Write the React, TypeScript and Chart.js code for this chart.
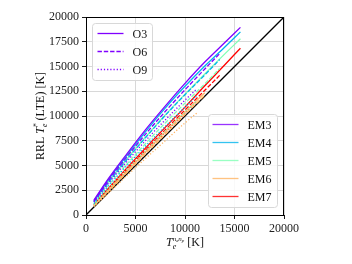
import { useEffect, useRef } from 'react';
import { Chart, registerables } from 'chart.js';
Chart.register(...registerables);

const emLabels = ['EM3', 'EM4', 'EM5', 'EM6', 'EM7'];
const emColors = ['rgb(128,0,255)', 'rgb(0,180,236)', 'rgb(128,255,180)', 'rgb(255,180,98)', 'rgb(255,0,0)'];
const oLabels = ['O3', 'O6', 'O9'];
const xTicks = [0, 5000, 10000, 15000, 20000];
const yTicks = [0, 2500, 5000, 7500, 10000, 12500, 15000, 17500, 20000];
const diagonal = [0, 20000];

const xO3 = [800, 2000, 4000, 6000, 8000, 10000, 12000, 14000, 15600];
const xO6 = [800, 2000, 4000, 6000, 8000, 10000, 12000, 13500];
const xO9 = [800, 2000, 4000, 6000, 8000, 10000, 11200];

const em3O3 = [1500, 3300, 6000, 8600, 11000, 13300, 15450, 17400, 18950];
const em3O6 = [1400, 3100, 5700, 8150, 10450, 12650, 14750, 16300];
const em3O9 = [1300, 2850, 5250, 7500, 9600, 11600, 12750];
const em4O3 = [1400, 3200, 5850, 8400, 10800, 13000, 15050, 16950, 18500];
const em4O6 = [1300, 2950, 5450, 7800, 10050, 12150, 14150, 15700];
const em4O9 = [1150, 2600, 4850, 6950, 8950, 10900, 12050];
const em5O3 = [1300, 3000, 5500, 7850, 10100, 12200, 14250, 16250, 17800];
const em5O6 = [1150, 2700, 5000, 7200, 9300, 11300, 13250, 14800];
const em5O9 = [1000, 2350, 4500, 6500, 8500, 10400, 11550];
const em6O3 = [950, 2200, 4300, 6350, 8400, 10400, 12350];
const em6O6 = [900, 2100, 4150, 6150, 8150, 10150, 12100];
const em6O9 = [850, 1950, 3850, 5700, 7500, 9300, 10300];
const em7O3 = [1050, 2400, 4600, 6750, 8850, 10900, 13050, 15150, 16850];
const em7O6 = [1000, 2300, 4450, 6550, 8600, 10600, 12600, 14100];
const em7O9 = [950, 2200, 4300, 6350, 8350, 10300, 11500];

const seriesY = [
  [em3O3, em3O6, em3O9],
  [em4O3, em4O6, em4O9],
  [em5O3, em5O6, em5O9],
  [em6O3, em6O6, em6O9],
  [em7O3, em7O6, em7O9],
];
const seriesX = [xO3, xO6, xO9];
const dashes = [[], [4.4, 1.9], [1.2, 2]];

const SERIF = '"Liberation Serif", "DejaVu Serif", serif';

type Part = { t: string; font: string; dy: number; stack?: boolean };

function drawRich(ctx: CanvasRenderingContext2D, parts: Part[], cx: number, cy: number) {
  let total = 0;
  const widths = parts.map((p) => {
    ctx.font = p.font;
    const w = p.stack ? 0 : ctx.measureText(p.t).width;
    total += w;
    return w;
  });
  let x = cx - total / 2;
  ctx.textBaseline = 'alphabetic';
  ctx.textAlign = 'left';
  parts.forEach((p, i) => {
    ctx.font = p.font;
    ctx.fillText(p.t, x, cy + p.dy);
    x += widths[i];
  });
}

const decorPlugin = {
  id: 'decor',
  afterDatasetsDraw(chart: any) {
    const ctx: CanvasRenderingContext2D = chart.ctx;
    const a = chart.chartArea;
    ctx.save();
    ctx.strokeStyle = '#000';
    ctx.lineWidth = 1;
    ctx.setLineDash([]);
    ctx.strokeRect(a.left + 0.5, a.top + 0.5, a.right - a.left - 1, a.bottom - a.top);

    const box = (x: number, y: number, w: number, h: number) => {
      ctx.beginPath();
      const r = 3;
      ctx.moveTo(x + r, y);
      ctx.arcTo(x + w, y, x + w, y + h, r);
      ctx.arcTo(x + w, y + h, x, y + h, r);
      ctx.arcTo(x, y + h, x, y, r);
      ctx.arcTo(x, y, x + w, y, r);
      ctx.closePath();
      ctx.fillStyle = 'rgba(255,255,255,0.85)';
      ctx.fill();
      ctx.strokeStyle = '#d8d8d8';
      ctx.lineWidth = 1;
      ctx.stroke();
    };

    const l1x = a.left + 6.5, l1y = a.top + 6.5;
    box(l1x, l1y, 60, 57);
    ctx.font = '12px ' + SERIF;
    ctx.textBaseline = 'middle';
    ctx.textAlign = 'left';
    oLabels.forEach((lab, i) => {
      const y = l1y + 10 + i * 18;
      ctx.strokeStyle = emColors[0];
      ctx.lineWidth = 1.3;
      ctx.setLineDash(dashes[i]);
      ctx.beginPath();
      ctx.moveTo(l1x + 5, y);
      ctx.lineTo(l1x + 31, y);
      ctx.stroke();
      ctx.setLineDash([]);
      ctx.fillStyle = '#111';
      ctx.fillText(lab, l1x + 40, y + 1);
    });

    const l2w = 69, l2h = 93;
    const l2x = a.right - 6.5 - l2w, l2y = a.bottom - 7.5 - l2h;
    box(l2x, l2y, l2w, l2h);
    emLabels.forEach((lab, i) => {
      const y = l2y + 10 + i * 18;
      ctx.strokeStyle = emColors[i];
      ctx.globalAlpha = 0.8;
      ctx.lineWidth = 1.3;
      ctx.beginPath();
      ctx.moveTo(l2x + 4, y);
      ctx.lineTo(l2x + 30, y);
      ctx.stroke();
      ctx.globalAlpha = 1;
      ctx.fillStyle = '#111';
      ctx.fillText(lab, l2x + 39, y + 1);
    });

    ctx.fillStyle = '#111';
    const cx = (a.left + a.right) / 2;
    drawRich(ctx, [
      { t: 'T', font: 'italic 12px ' + SERIF, dy: 0 },
      { t: 'e', font: 'italic 8px ' + SERIF, dy: 2.5, stack: true },
      { t: 'n', font: 'italic 7px ' + SERIF, dy: -5 },
      { t: 'e', font: 'italic 5px ' + SERIF, dy: -4 },
      { t: 'n', font: 'italic 7px ' + SERIF, dy: -5 },
      { t: 'p', font: 'italic 5px ' + SERIF, dy: -4 },
      { t: ' [K]', font: '12px ' + SERIF, dy: 0 },
    ], cx, 246);

    ctx.save();
    ctx.translate(44, (a.top + a.bottom) / 2);
    ctx.rotate(-Math.PI / 2);
    drawRich(ctx, [
      { t: 'RRL ', font: '12px ' + SERIF, dy: 0 },
      { t: 'T', font: 'italic 12px ' + SERIF, dy: 0 },
      { t: '*', font: '8px ' + SERIF, dy: -5, stack: true },
      { t: 'e', font: 'italic 8px ' + SERIF, dy: 2.5 },
      { t: ' (LTE) [K]', font: '12px ' + SERIF, dy: 0 },
    ], 0, 0);
    ctx.restore();
    ctx.restore();
  },
};

export default function App() {
  const ref = useRef<HTMLCanvasElement>(null);
  useEffect(() => {
    document.body.style.margin = '0';
    const datasets: any[] = [];
    emLabels.forEach((lab, e) => {
      oLabels.forEach((o, k) => {
        const ys = seriesY[e][k];
        const xs = seriesX[k];
        datasets.push({
          label: lab + ' ' + o,
          data: ys.map((y, i) => ({ x: xs[i], y })),
          borderColor: emColors[e],
          backgroundColor: emColors[e],
          borderWidth: 1.3,
          borderDash: dashes[k],
          showLine: true,
          pointRadius: 0,
          cubicInterpolationMode: 'monotone',
          fill: false,
        });
      });
    });
    datasets.push({
      label: 'y=x',
      data: diagonal.map((v) => ({ x: v, y: v })),
      borderColor: '#000',
      borderWidth: 1.3,
      showLine: true,
      pointRadius: 0,
      fill: false,
    });
    const tickFont = { family: SERIF, size: 12 };
    const chart = new Chart(ref.current as HTMLCanvasElement, {
      type: 'scatter',
      data: { datasets },
      options: {
        animation: false,
        responsive: false,
        maintainAspectRatio: false,
        layout: { padding: { top: 17, right: 68, left: 0, bottom: 0 } },
        plugins: { legend: { display: false }, tooltip: { enabled: false } },
        scales: {
          x: {
            type: 'linear',
            min: 0,
            max: 20000,
            afterBuildTicks: (s: any) => { s.ticks = xTicks.map((v) => ({ value: v })); },
            afterFit: (s: any) => { s.height = 49; },
            ticks: { font: tickFont, color: '#222', padding: 3, maxRotation: 0, callback: (v: any) => String(v) },
            grid: { color: '#d4d4d4', lineWidth: 0.9, tickLength: 4, tickColor: '#000', drawTicks: true },
            border: { display: true, color: '#000', width: 1 },
          },
          y: {
            type: 'linear',
            min: 0,
            max: 20000,
            afterBuildTicks: (s: any) => { s.ticks = yTicks.map((v) => ({ value: v })); },
            afterFit: (s: any) => { s.width = 86; },
            ticks: { font: tickFont, color: '#222', padding: 3, callback: (v: any) => String(v) },
            grid: { color: '#d4d4d4', lineWidth: 0.9, tickLength: 4, tickColor: '#000', drawTicks: true },
            border: { display: true, color: '#000', width: 1 },
          },
        },
      },
      plugins: [decorPlugin],
    });
    return () => chart.destroy();
  }, []);
  return (
    <div style={{ width: 352, height: 264, background: '#fff' }}>
      <canvas ref={ref} width={352} height={264} style={{ width: 352, height: 264, display: 'block' }} />
    </div>
  );
}
